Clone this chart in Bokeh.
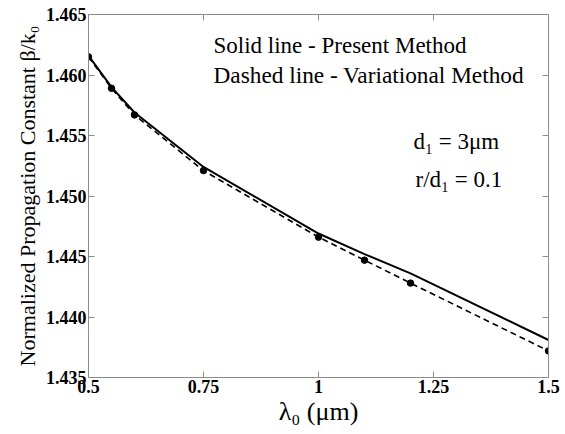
from bokeh.plotting import figure
from bokeh.models import Label, LinearAxis, FixedTicker, Range1d
from bokeh.embed import file_html
from bokeh.resources import INLINE

wavelength = [0.5, 0.55, 0.6, 0.75, 1.0, 1.1, 1.2, 1.5]
present = [1.4616, 1.4590, 1.4569, 1.4524, 1.4469, 1.4452, 1.4436, 1.4381]
variational = [1.4615, 1.4589, 1.4567, 1.4521, 1.4466, 1.4447, 1.4428, 1.4372]
x_ticks = [0.5, 0.75, 1.0, 1.25, 1.5]
x_tick_labels = {0.5: "0.5", 0.75: "0.75", 1.0: "1", 1.25: "1.25", 1.5: "1.5"}
y_ticks = [1.435, 1.44, 1.445, 1.45, 1.455, 1.46, 1.465]
y_tick_labels = {v: f"{v:.3f}" for v in y_ticks}

SERIF = "Liberation Serif"
GRAY = "#8c8c8c"
W, H = 562, 432

p = figure(width=W, height=H, output_backend="svg", toolbar_location=None,
           x_range=Range1d(0.5, 1.5), y_range=Range1d(1.435, 1.465),
           min_border_left=88, min_border_right=W - 548, min_border_top=14,
           min_border_bottom=H - 377)
p.background_fill_color = "white"
p.border_fill_color = "white"
p.outline_line_color = GRAY
p.grid.visible = False

p.line(wavelength, present, line_color="black", line_width=2)
p.line(wavelength, variational, line_color="black", line_width=1.6, line_dash="6 4")
p.scatter(wavelength, variational, size=6.5, color="black")

def style_axis(ax, show_labels):
    ax.axis_line_color = GRAY
    ax.major_tick_line_color = GRAY
    ax.major_tick_in = 6
    ax.major_tick_out = 0
    ax.minor_tick_line_color = None
    ax.major_label_text_font = SERIF
    ax.major_label_text_font_style = "bold"
    ax.major_label_text_font_size = "18px"
    ax.major_label_text_color = "black"
    if not show_labels:
        ax.major_label_text_font_size = "0px"
        ax.major_label_text_color = None

xa = p.xaxis[0]
xa.ticker = FixedTicker(ticks=x_ticks)
xa.major_label_overrides = x_tick_labels
xa.major_label_standoff = 2
style_axis(xa, True)
xa.axis_label = "\u03bb\u2080 (\u03bcm)"
xa.axis_label_text_font = SERIF
xa.axis_label_text_font_style = "normal"
xa.axis_label_text_font_size = "26px"
xa.axis_label_text_color = "black"
xa.axis_label_standoff = 1

ya = p.yaxis[0]
ya.ticker = FixedTicker(ticks=y_ticks)
ya.major_label_overrides = y_tick_labels
ya.major_label_standoff = 2
style_axis(ya, True)
ya.axis_label = "Normalized Propagation Constant \u03b2/k\u2080"
ya.axis_label_text_font = SERIF
ya.axis_label_text_font_style = "normal"
ya.axis_label_text_font_size = "22px"
ya.axis_label_text_color = "black"
ya.axis_label_standoff = 3

top = LinearAxis(ticker=FixedTicker(ticks=x_ticks))
style_axis(top, False)
p.add_layout(top, "above")
right = LinearAxis(ticker=FixedTicker(ticks=y_ticks))
style_axis(right, False)
p.add_layout(right, "right")

def lab(x, y, text, size):
    p.add_layout(Label(x=x, y=y, text=text, text_font=SERIF, text_font_size=size,
                       text_color="black", text_baseline="alphabetic"))

lab(0.77174, 1.462438, "Solid line - Present Method", "23px")
lab(0.77174, 1.460041, "Dashed line - Variational Method", "23.3px")
lab(1.2065, 1.454504, "d\u2081 = 3\u03bcm", "23px")
lab(1.2108, 1.451364, "r/d\u2081 = 0.1", "23px")

open("out.html", "w").write(file_html(p, INLINE))
